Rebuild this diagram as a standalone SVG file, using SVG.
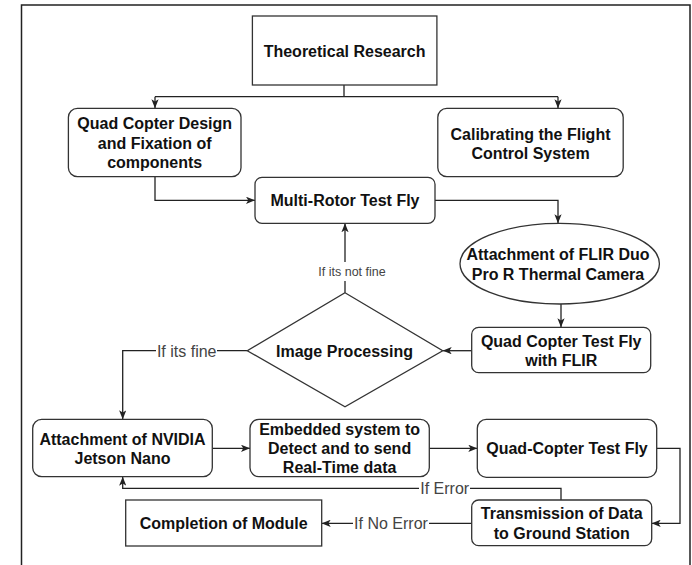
<svg xmlns="http://www.w3.org/2000/svg" width="692" height="565" viewBox="0 0 692 565">
<style>
  .box { fill: #ffffff; stroke: #333333; stroke-width: 1.3; }
  .t { font-family: "Liberation Sans", Arial, sans-serif; font-size: 16px; font-weight: bold; fill: #111111; text-anchor: middle; }
  .edge { fill: none; stroke: #222222; stroke-width: 1.3; }
  .lbl { font-family: "Liberation Sans", Arial, sans-serif; font-size: 16px; fill: #444444; text-anchor: middle; }
  .lbls { font-family: "Liberation Sans", Arial, sans-serif; font-size: 12.5px; fill: #444444; text-anchor: middle; }
  .lblbg { fill: #ffffff; stroke: none; }
</style>
<defs>
  <marker id="arr" viewBox="0 0 10 8" refX="10" refY="4" markerWidth="9" markerHeight="7.5" markerUnits="userSpaceOnUse" orient="auto">
    <path d="M0,0 L10,4 L0,8 L2.5,4 Z" fill="#222222"/>
  </marker>
</defs>
<rect width="692" height="565" fill="#ffffff"/>
<path d="M21.5,570 L21.5,5 L690,5 L690,570" fill="none" stroke="#222222" stroke-width="1.5"/>

<g id="connectors">
  <path class="edge" d="M344,85 L344,96.7 M155,96.7 L558,96.7"/>
  <path class="edge" d="M155,96.7 L155,108.3" marker-end="url(#arr)"/>
  <path class="edge" d="M558,96.7 L558,108.3" marker-end="url(#arr)"/>
  <path class="edge" d="M155,176.7 L155,200.3 L255,200.3" marker-end="url(#arr)"/>
  <path class="edge" d="M435,200.3 L558,200.3 L558,223.3" marker-end="url(#arr)"/>
  <path class="edge" d="M561,304 L561,327.3" marker-end="url(#arr)"/>
  <path class="edge" d="M471.7,350.7 L442.7,350.7" marker-end="url(#arr)"/>
  <path class="edge" d="M345,292.7 L345,223.3" marker-end="url(#arr)"/>
  <path class="edge" d="M247.3,350.7 L122.7,350.7 L122.7,419.3" marker-end="url(#arr)"/>
  <path class="edge" d="M212.3,448.3 L250,448.3" marker-end="url(#arr)"/>
  <path class="edge" d="M429.3,448.3 L477.3,448.3" marker-end="url(#arr)"/>
  <path class="edge" d="M656.7,448.3 L680,448.3 L680,523.3 L651.7,523.3" marker-end="url(#arr)"/>
  <path class="edge" d="M561,500 L561,488.3 L122.7,488.3 L122.7,476.7" marker-end="url(#arr)"/>
  <path class="edge" d="M471.7,523.3 L321.7,523.3" marker-end="url(#arr)"/>

  <g id="label-not-fine">
    <rect class="lblbg" x="318" y="262" width="68" height="19"/>
    <text class="lbls" x="352" y="276">If its not fine</text>
  </g>
  <g id="label-fine">
    <rect class="lblbg" x="156" y="342" width="61" height="18"/>
    <text class="lbl" x="186.7" y="356.5">If its fine</text>
  </g>
  <g id="label-error">
    <rect class="lblbg" x="419" y="480" width="51" height="17"/>
    <text class="lbl" x="444.7" y="494">If Error</text>
  </g>
  <g id="label-no-error">
    <rect class="lblbg" x="353" y="515" width="76" height="17"/>
    <text class="lbl" x="391" y="529">If No Error</text>
  </g>
</g>

<g id="theoretical-research">
  <rect class="box" x="252.4" y="16" width="184.5" height="69"/>
  <text class="t" x="344.6" y="56.5">Theoretical Research</text>
</g>
<g id="quad-copter-design">
  <rect class="box" x="68.4" y="108.3" width="172.6" height="68.4" rx="9"/>
  <text class="t" x="154.7" y="129">Quad Copter Design</text>
  <text class="t" x="154.7" y="148.8">and Fixation of</text>
  <text class="t" x="154.7" y="168">components</text>
</g>
<g id="calibrating">
  <rect class="box" x="437.8" y="108.3" width="185.4" height="68.4" rx="9"/>
  <text class="t" x="530.5" y="140">Calibrating the Flight</text>
  <text class="t" x="530.5" y="159">Control System</text>
</g>
<g id="multi-rotor">
  <rect class="box" x="255" y="177.3" width="180" height="46" rx="7"/>
  <text class="t" x="345" y="206">Multi-Rotor Test Fly</text>
</g>
<g id="flir-attachment">
  <ellipse class="box" cx="559.7" cy="263.7" rx="99.7" ry="40.3"/>
  <text class="t" x="558" y="260">Attachment of FLIR Duo</text>
  <text class="t" x="558" y="280">Pro R Thermal Camera</text>
</g>
<g id="quad-copter-flir">
  <rect class="box" x="471.7" y="327.3" width="179" height="45.4" rx="7"/>
  <text class="t" x="561.2" y="346.5">Quad Copter Test Fly</text>
  <text class="t" x="561.2" y="366">with FLIR</text>
</g>
<g id="image-processing">
  <polygon class="box" points="345,292.7 442.7,350.7 345,406.7 247.3,350.7"/>
  <text class="t" x="344.5" y="356.5">Image Processing</text>
</g>
<g id="nvidia">
  <rect class="box" x="32.7" y="419.3" width="179.6" height="57.4" rx="9"/>
  <text class="t" x="122.5" y="444.8">Attachment of NVIDIA</text>
  <text class="t" x="122.5" y="464">Jetson Nano</text>
</g>
<g id="embedded">
  <rect class="box" x="250" y="419.3" width="179.3" height="57.4" rx="9"/>
  <text class="t" x="339.6" y="434.8">Embedded system to</text>
  <text class="t" x="339.6" y="454">Detect and to send</text>
  <text class="t" x="339.6" y="473.4">Real-Time data</text>
</g>
<g id="quad-copter-test">
  <rect class="box" x="477.3" y="419.3" width="179.4" height="58" rx="9"/>
  <text class="t" x="567" y="454">Quad-Copter Test Fly</text>
</g>
<g id="transmission">
  <rect class="box" x="471.7" y="500" width="180" height="45.7" rx="7"/>
  <text class="t" x="561.7" y="519">Transmission of Data</text>
  <text class="t" x="561.7" y="539">to Ground Station</text>
</g>
<g id="completion">
  <rect class="box" x="125.7" y="500" width="196" height="46"/>
  <text class="t" x="223.7" y="528.5">Completion of Module</text>
</g>
</svg>
